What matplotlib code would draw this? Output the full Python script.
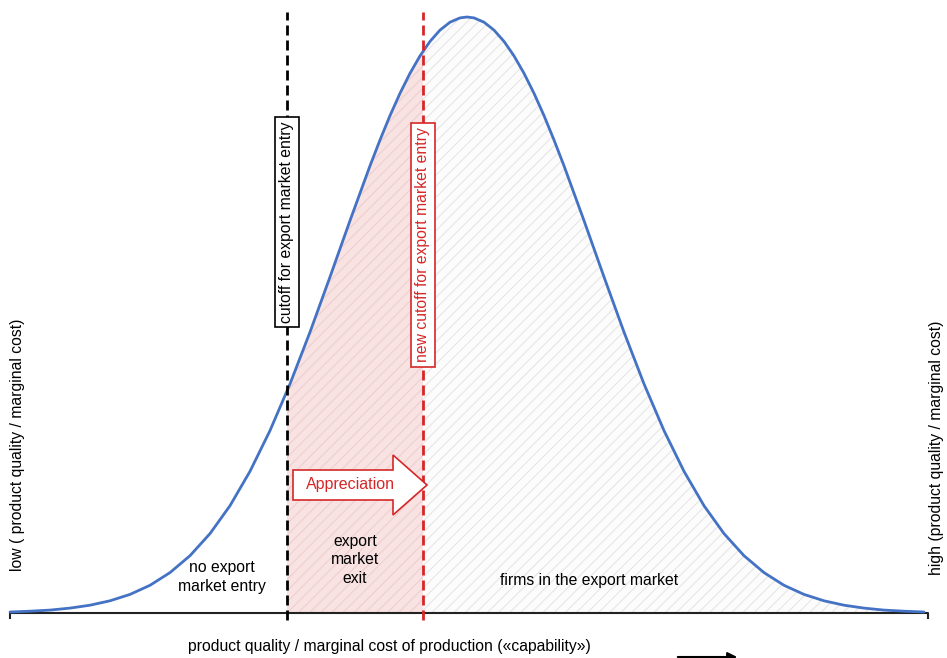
import matplotlib
matplotlib.use("Agg")
import matplotlib.pyplot as plt
from matplotlib.patches import FancyArrow
import numpy as np

plt.rcParams['font.family'] = ['Liberation Sans', 'DejaVu Sans']
plt.rcParams['hatch.linewidth'] = 0.8

# capability axis positions and density heights
curve_x = [10, 30, 50, 70, 90, 110, 130, 150, 170, 190, 210, 230, 250, 270, 290,
           310, 330, 350, 370, 380, 390, 400, 410, 420, 430, 440, 450, 460, 467,
           474, 484, 494, 504, 514, 524, 534, 544, 554, 564, 584, 604, 624, 644,
           664, 684, 704, 724, 744, 764, 784, 804, 824, 844, 864, 884, 904, 924]
curve_y = [1.0, 1.8, 2.9, 4.9, 7.8, 12.2, 18.6, 27.7, 40.4, 57.3, 79.4, 107.3, 141.7,
           182.4, 229.1, 280.9, 336.1, 392.4, 447.2, 473.0, 497.4, 519.7, 539.7, 557.1,
           571.6, 582.9, 590.8, 595.1, 596.0,
           595.1, 590.8, 582.9, 571.6, 557.1, 539.7, 519.7, 497.4, 473.0, 447.2,
           392.4, 336.1, 280.9, 229.1, 182.4, 141.7, 107.3, 79.4, 57.3, 40.4, 27.7,
           18.6, 12.2, 7.8, 4.9, 2.9, 1.8, 1.0]
old_cutoff = 287
new_cutoff = 423
axis_start, axis_end = 10, 928

cx = np.array(curve_x, dtype=float)
cy = np.array(curve_y, dtype=float)

FS = 11.3

fig = plt.figure(figsize=(9.47, 6.58), dpi=100)
ax = fig.add_axes([0, 0, 1, 1])
ax.set_xlim(0, 947)
ax.set_ylim(-45, 613)
ax.axis('off')

def region(x0, x1):
    xs = np.concatenate([[x0], cx[(cx > x0) & (cx < x1)], [x1]])
    ys = np.interp(xs, cx, cy)
    return xs, ys

# exit region (pink)
xs, ys = region(old_cutoff, new_cutoff)
ax.fill_between(xs, 0, ys, facecolor='#f8e2e2', edgecolor='#efcfcf', hatch='///', linewidth=0, zorder=1)
# exporting firms region (grey hatched)
xs, ys = region(new_cutoff, axis_end)
ax.fill_between(xs, 0, ys, facecolor='#fcfcfc', edgecolor='#e6e6e6', hatch='///', linewidth=0, zorder=1)

# curve
ax.plot(cx, cy, color='#4472c4', lw=2.0, zorder=4, solid_capstyle='round', solid_joinstyle='round')

# axis line with end ticks
ax.plot([axis_start, axis_start, axis_end, axis_end], [-5, 0, 0, -5], color='#222222', lw=1.5, zorder=3)

# cutoff lines
ax.plot([old_cutoff, old_cutoff], [-7, 601], color='black', lw=2, dashes=(3.6, 1.8), zorder=5)
ax.plot([new_cutoff, new_cutoff], [-7, 601], color='#d62728', lw=2, dashes=(3.6, 1.8), zorder=5)

ax.text(old_cutoff, 391, 'cutoff for export market entry', rotation=90, ha='center', va='center',
        fontsize=FS, color='black', zorder=6,
        bbox=dict(boxstyle='square,pad=0.3', facecolor='white', edgecolor='black', lw=1.2))
ax.text(new_cutoff, 368, 'new cutoff for export market entry', rotation=90, ha='center', va='center',
        fontsize=FS, color='#d62728', zorder=6,
        bbox=dict(boxstyle='square,pad=0.3', facecolor='white', edgecolor='#d62728', lw=1.2))

# appreciation block arrow
arr = FancyArrow(293, 128, new_cutoff + 4 - 293, 0, width=30, head_width=60, head_length=34,
                 length_includes_head=True, facecolor='white', edgecolor='#d62728', lw=1.2, zorder=6)
ax.add_patch(arr)
ax.text(350, 128, 'Appreciation', ha='center', va='center', fontsize=11.5, color='#d62728', zorder=7)

# region labels
ax.text(222, 36, 'no export\nmarket entry', ha='center', va='center', fontsize=FS, linespacing=1.3, zorder=7)
ax.text(355, 53, 'export\nmarket\nexit', ha='center', va='center', fontsize=FS, linespacing=1.3, zorder=7)
ax.text(589, 33, 'firms in the export market', ha='center', va='center', fontsize=FS, zorder=7)

# axis labels
ax.text(389, -33, 'product quality / marginal cost of production (\u00abcapability\u00bb)',
        ha='center', va='center', fontsize=FS)
ax.text(18, 168, 'low ( product quality / marginal cost)', rotation=90, ha='center', va='center', fontsize=FS)
ax.text(937, 165, 'high (product quality / marginal cost)', rotation=90, ha='center', va='center', fontsize=FS)

ax.annotate('', xy=(740, -44), xytext=(675, -44),
            arrowprops=dict(arrowstyle='-|>', color='black', lw=1.5, mutation_scale=14))

fig.savefig('out.png', dpi=100)
